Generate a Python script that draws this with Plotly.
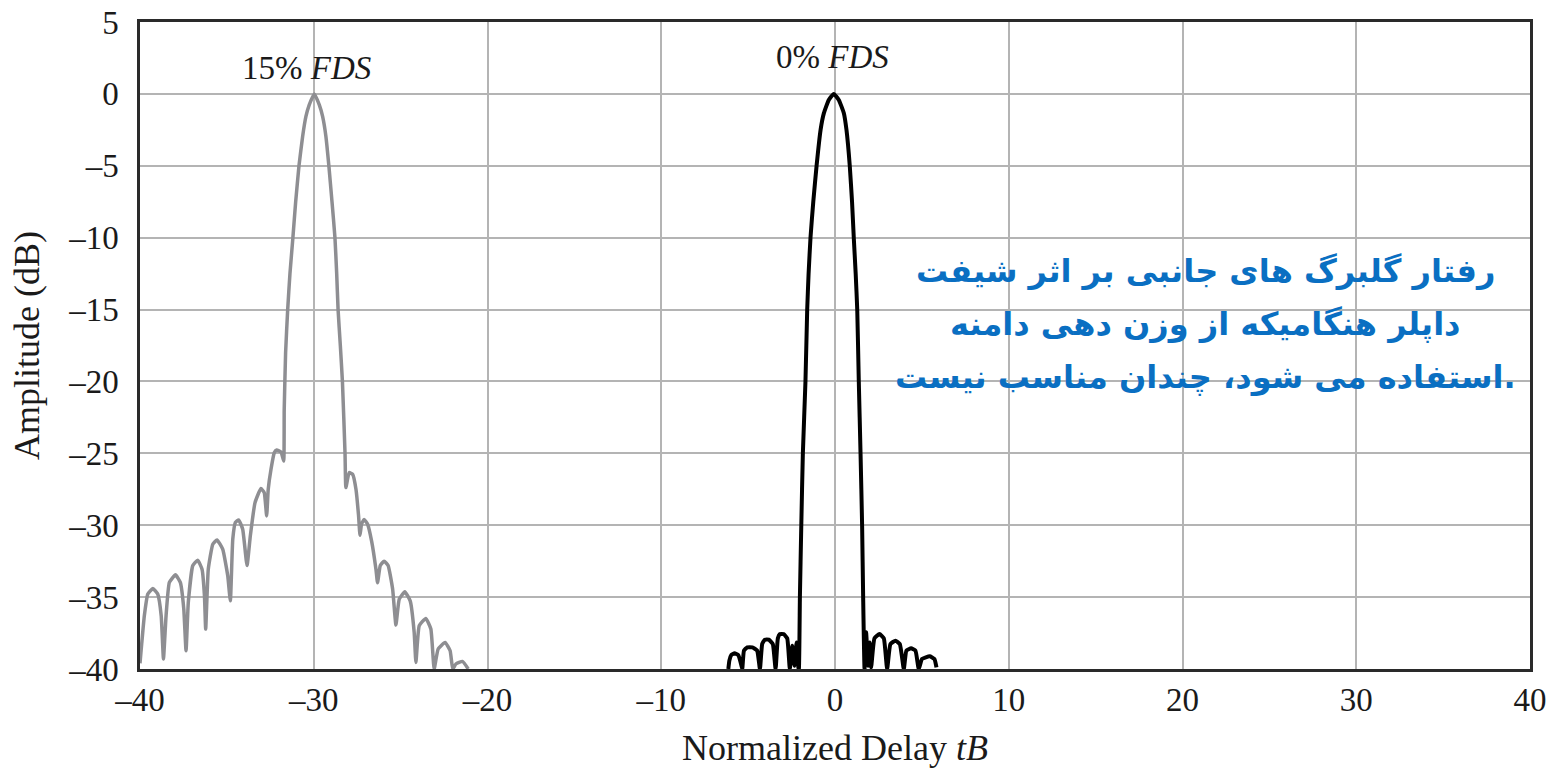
import plotly.graph_objects as go

# ---- data ----
# 15% FDS (gray) trace, left to right
fds15_x = [-40.0, -39.75, -39.55, -39.26, -38.98, -38.78, -38.65,
           -38.5, -38.31, -37.96, -37.68, -37.48, -37.35,
           -37.22, -36.96, -36.68, -36.43, -36.29, -36.22,
           -36.07, -35.81, -35.57, -35.24, -34.95, -34.8,
           -34.66, -34.51, -34.32, -34.09, -33.84,
           -33.65, -33.38, -33.04, -32.85, -32.71,
           -32.62, -32.46, -32.27, -32.13, -31.88, -31.73,
           -31.7, -31.62, -31.5, -31.37, -31.2, -31.04, -30.85, -30.64, -30.45, -30.26, -29.97,
           -29.68, -29.49, -29.3, -29.13, -28.95, -28.78, -28.68, -28.6, -28.47, -28.35, -28.2, -28.15,
           -27.96, -27.76, -27.57, -27.42, -27.34,
           -27.25, -27.1, -26.9, -26.67, -26.42, -26.33,
           -26.17, -25.95, -25.72, -25.46, -25.27,
           -25.08, -24.76, -24.45, -24.22, -24.12,
           -23.93, -23.55, -23.26, -23.07,
           -22.84, -22.44, -22.15, -22.0,
           -21.82, -21.44, -21.11]
fds15_y = [-39.6, -36.3, -34.79, -34.4, -34.79, -36.3, -39.3,
           -36.3, -33.98, -33.45, -33.98, -35.83, -38.73,
           -35.37, -32.8, -32.43, -33.06, -34.91, -37.22,
           -33.06, -31.32, -31.02, -31.67, -33.52, -35.26,
           -30.97, -29.81, -29.63, -30.28, -32.8,
           -30.74, -28.43, -27.45, -27.73, -29.35,
           -27.5, -26.11, -24.95, -24.77, -24.91, -25.53,
           -22.0, -18.0, -15.0, -12.5, -10.0, -7.5, -5.0, -2.96, -1.57, -0.76, 0.0,
           -0.76, -1.57, -2.96, -5.0, -7.5, -10.0, -12.5, -15.0, -17.5, -20.0, -25.0, -27.38,
           -26.34, -26.46, -27.5, -29.35, -30.7,
           -29.93, -29.6, -29.93, -31.1, -33.06, -34.0,
           -32.8, -32.5, -32.8, -34.44, -36.94,
           -35.14, -34.63, -35.26, -37.45, -39.54,
           -36.99, -36.48, -37.22, -40.0,
           -38.61, -38.15, -38.73, -40.0,
           -39.65, -39.47, -40.0]

# 0% FDS (black) trace, left to right
fds0_x = [-6.14, -6.08, -5.97, -5.78, -5.57, -5.43, -5.34,
          -5.24, -5.05, -4.76, -4.48, -4.32,
          -4.19, -4.04, -3.81, -3.58, -3.42,
          -3.29, -3.17, -2.96, -2.75, -2.6,
          -2.46, -2.33, -2.21, -2.11,
          -2.08, -2.02, -1.94, -1.85, -1.7, -1.6, -1.52, -1.41, -1.25, -1.06, -0.83,
          -0.64, -0.36, -0.07, 0.22, 0.51, 0.66, 0.85, 0.98, 1.08, 1.19, 1.28, 1.37,
          1.47, 1.56, 1.62, 1.70,
          1.79, 1.91, 2.0, 2.08,
          2.27, 2.56, 2.81, 3.0,
          3.19, 3.48, 3.73, 3.96,
          4.11, 4.38, 4.63, 4.82,
          5.01, 5.45, 5.72, 5.84]
fds0_y = [-40.0, -39.42, -39.03, -38.91, -39.03, -39.54, -40.0,
          -38.72, -38.49, -38.49, -38.72, -40.0,
          -38.26, -37.96, -37.96, -38.26, -40.0,
          -37.87, -37.57, -37.57, -37.87, -40.0,
          -38.38, -39.77, -38.15, -39.88,
          -40.0, -35.0, -30.0, -25.0, -20.0, -15.0, -12.5, -10.0, -7.5, -5.0, -2.5,
          -1.34, -0.42, 0.0, -0.42, -1.34, -2.5, -5.0, -7.5, -10.0, -12.5, -15.0, -20.0,
          -25.0, -30.0, -35.0, -40.0,
          -37.45, -39.77, -38.15, -39.88,
          -37.87, -37.57, -37.87, -40.0,
          -38.26, -38.03, -38.26, -40.0,
          -38.72, -38.56, -38.72, -40.0,
          -39.3, -39.12, -39.3, -39.88]

x_ticks = [-40, -30, -20, -10, 0, 10, 20, 30, 40]
y_ticks = [5, 0, -5, -10, -15, -20, -25, -30, -35, -40]

def lab(v):
    return ("\u2013" + str(abs(v))) if v < 0 else str(v)

serif = "Liberation Serif, Times New Roman, serif"

fig = go.Figure()
fig.add_trace(go.Scatter(x=fds15_x, y=fds15_y, mode="lines",
                         line=dict(color="#8e8e92", width=3.5, shape="spline", smoothing=0.4),
                         showlegend=False, hoverinfo="skip"))
fig.add_trace(go.Scatter(x=fds0_x, y=fds0_y, mode="lines",
                         line=dict(color="#000000", width=4, shape="spline", smoothing=0.4),
                         showlegend=False, hoverinfo="skip"))

fig.update_layout(
    width=1561, height=770,
    margin=dict(l=140, r=31, t=22, b=101),
    paper_bgcolor="white", plot_bgcolor="white",
    font=dict(family=serif, size=33, color="#1a1a1a"),
    xaxis=dict(range=[-40, 40], tickvals=x_ticks, ticktext=[lab(v) for v in x_ticks],
               showgrid=True, gridcolor="#b4b4b4", gridwidth=2,
               showline=True, linecolor="#2a2a2a", linewidth=2.5, mirror=True,
               ticks="", ticklen=0, ticklabelstandoff=0, zeroline=False, automargin=False,
               title=dict(text="Normalized Delay <i>tB</i>", font=dict(size=36), standoff=18)),
    yaxis=dict(range=[-40, 5], tickvals=y_ticks, ticktext=[lab(v) for v in y_ticks],
               showgrid=True, gridcolor="#b4b4b4", gridwidth=2,
               showline=True, linecolor="#2a2a2a", linewidth=2.5, mirror=True,
               ticks="", ticklen=0, ticklabelstandoff=12, zeroline=False, automargin=False,
               title=dict(text="Amplitude (dB)", font=dict(size=36), standoff=18)),
)

fig.add_annotation(x=-30.4, y=1.8, text="15% <i>FDS</i>", showarrow=False,
                   font=dict(family=serif, size=33, color="#1a1a1a"))
fig.add_annotation(x=-0.15, y=2.57, text="0% <i>FDS</i>", showarrow=False,
                   font=dict(family=serif, size=33, color="#1a1a1a"))

persian_lines = ["رفتار گلبرگ های جانبی بر اثر شیفت",
                 "داپلر هنگامیکه از وزن دهی دامنه",
                 "استفاده می شود، چندان مناسب نیست."]
for txt, yy in zip(persian_lines, [-12.3, -16.0, -19.7]):
    fig.add_annotation(x=21.3, y=yy, text="<b>" + txt + "</b>", showarrow=False,
                       font=dict(family="DejaVu Sans, Noto Sans, sans-serif", size=32, color="#0a6fc2"),
                       bgcolor="rgba(0,0,0,0)")

fig.write_html("out.html")
